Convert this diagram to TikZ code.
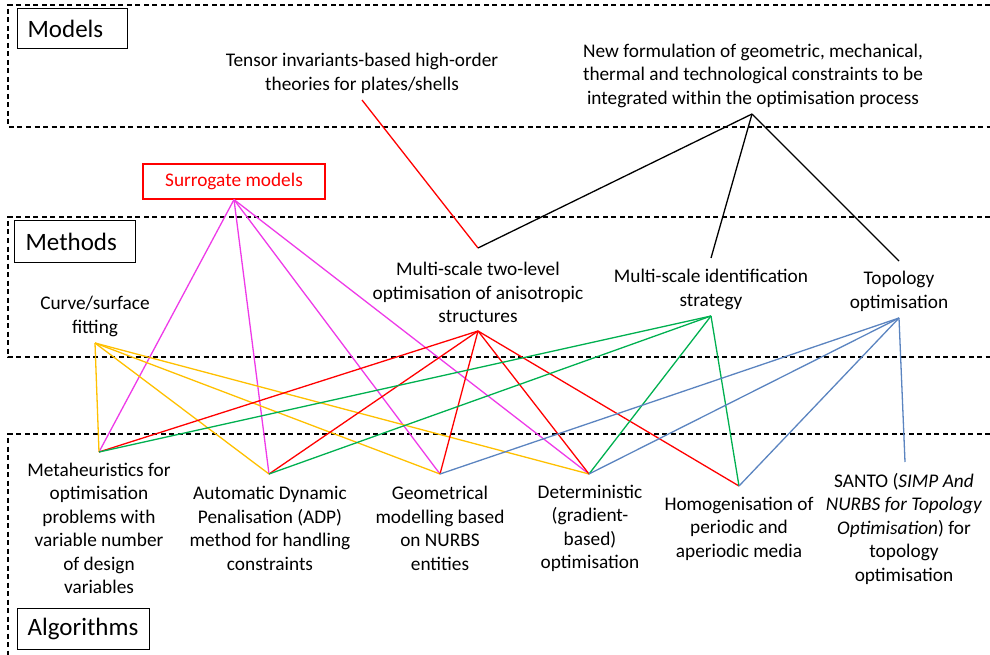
\documentclass[tikz,border=0pt]{standalone}
\usepackage{fontspec}
\setmainfont{Carlito}
\definecolor{cRed}{HTML}{FF0000}
\definecolor{cMag}{HTML}{EE3BE8}
\definecolor{cYel}{HTML}{FFC000}
\definecolor{cGrn}{HTML}{00B050}
\definecolor{cBlu}{HTML}{5B84C0}
\begin{document}
\begin{tikzpicture}[x=1pt,y=-1pt,
  txt/.style={align=center, font=\fontsize{19.3}{23.5}\selectfont, inner sep=0pt},
  tier/.style={draw, line width=1.2pt, font=\fontsize{25}{30}\selectfont,
    anchor=north west, align=left, inner ysep=0pt, inner xsep=10pt},
  zone/.style={line width=1.2pt, dash pattern=on 5pt off 3.5pt},
  link/.style={line width=1.3pt},
]
\useasboundingbox (0,0) rectangle (990,655);

% dashed tiers
\draw[zone] (990,5) -- (8,5) -- (8,127) -- (990,127);
\draw[zone] (990,217) -- (8,217) -- (8,357) -- (990,357);
\draw[zone] (990,434) -- (8,434) -- (8,655);

% tier titles
\node[tier, text width=90pt, minimum height=40pt] (tModels) at (17,8) {Models};
\node[tier, text width=99pt, inner xsep=11pt, minimum height=42pt] (tMethods) at (14,220) {Methods};
\node[tier, text width=112pt, minimum height=41pt] (tAlgo) at (17,608) {Algorithms};

% models
\node[txt] (tensor) at (362,73.5) {Tensor invariants-based high-order\\theories for plates/shells};
\node[txt] (newf) at (753,75.5) {New formulation of geometric, mechanical,\\thermal and technological constraints to be\\integrated within the optimisation process};
\node[draw=cRed, text=cRed, line width=1.2pt, minimum width=182pt, minimum height=35pt,
  font=\fontsize{19.3}{23.5}\selectfont, inner sep=0pt] (surr) at (234,181.5) {Surrogate models};

% methods
\node[txt] (ms2) at (478,292.5) {Multi-scale two-level\\optimisation of anisotropic\\structures};
\node[txt] (msi) at (711,289.5) {Multi-scale identification\\strategy};
\node[txt] (topo) at (899,291.5) {Topology\\optimisation};
\node[txt] (fit) at (95,316.5) {Curve/surface\\fitting};

% algorithms
\node[txt] (meta) at (99,528.5) {Metaheuristics for\\optimisation\\problems with\\variable number\\of design\\variables};
\node[txt] (adp) at (270,528.5) {Automatic Dynamic\\Penalisation (ADP)\\method for handling\\constraints};
\node[txt] (geo) at (440,528.5) {Geometrical\\modelling based\\on NURBS\\entities};
\node[txt] (det) at (590,528.5) {Deterministic\\(gradient-\\based)\\optimisation};
\node[txt] (hom) at (739,528.5) {Homogenisation of\\periodic and\\aperiodic media};
\node[txt] (santo) at (904,528.5) {SANTO (\textit{SIMP And}\\\textit{NURBS for Topology}\\\textit{Optimisation}) for\\topology\\optimisation};

% attachment points
\coordinate (tensorB) at (362,100);
\coordinate (newfB) at (752,114);
\coordinate (ms2T) at (478,248);
\coordinate (ms2B) at (478,331);
\coordinate (msiT) at (711,258);
\coordinate (msiB) at (711,316);
\coordinate (topoT) at (899,261);
\coordinate (topoB) at (899,318);
\coordinate (fitB) at (95,343);
\coordinate (metaT) at (99,452);
\coordinate (adpT) at (269,474);
\coordinate (geoT) at (440,474);
\coordinate (detT) at (589,474);
\coordinate (homT) at (739,486);
\coordinate (santoT) at (905,462);

% model to method links
\draw[link, cRed] (tensorB) -- (ms2T);
\draw[link] (newfB) -- (ms2T);
\draw[link] (newfB) -- (msiT);
\draw[link] (newfB) -- (topoT);

% method to algorithm links
\foreach \t in {metaT, adpT, geoT, detT}
  \draw[link, cMag] (surr.south) -- (\t);
\foreach \t in {metaT, adpT, geoT, detT}
  \draw[link, cYel] (fitB) -- (\t);
\foreach \t in {metaT, adpT, geoT, detT, homT}
  \draw[link, cRed] (ms2B) -- (\t);
\foreach \t in {metaT, adpT, detT, homT}
  \draw[link, cGrn] (msiB) -- (\t);
\foreach \t in {geoT, detT, homT, santoT}
  \draw[link, cBlu] (topoB) -- (\t);
\end{tikzpicture}
\end{document}
